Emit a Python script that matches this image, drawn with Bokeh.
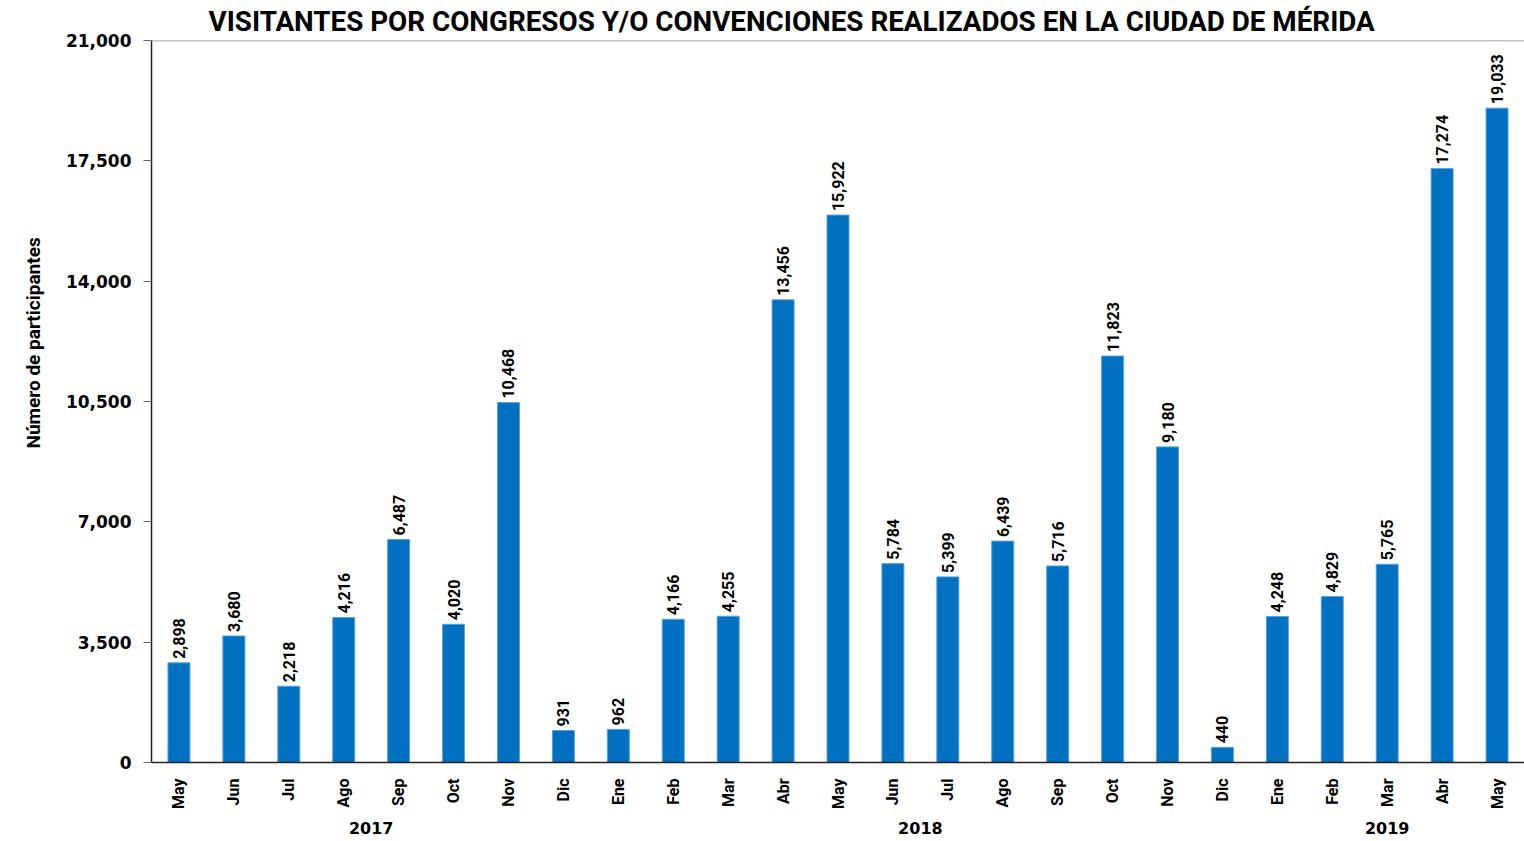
import math
from bokeh.plotting import figure
from bokeh.models import (ColumnDataSource, FactorRange, Range1d, FixedTicker,
                          NumeralTickFormatter, Span, Title)
from bokeh.core.properties import value
from bokeh.embed import file_html
from bokeh.resources import INLINE

years = ["2017"] * 8 + ["2018"] * 12 + ["2019"] * 5
months = ["May", "Jun", "Jul", "Ago", "Sep", "Oct", "Nov", "Dic",
          "Ene", "Feb", "Mar", "Abr", "May", "Jun", "Jul", "Ago", "Sep", "Oct", "Nov", "Dic",
          "Ene", "Feb", "Mar", "Abr", "May"]
visitantes = [2898, 3680, 2218, 4216, 6487, 4020, 10468, 931,
              962, 4166, 4255, 13456, 15922, 5784, 5399, 6439, 5716, 11823, 9180, 440,
              4248, 4829, 5765, 17274, 19033]
y_ticks = [0, 3500, 7000, 10500, 14000, 17500, 21000]

title_text = "VISITANTES POR CONGRESOS Y/O CONVENCIONES REALIZADOS EN LA CIUDAD DE MÉRIDA"
y_label = "Número de participantes"

factors = list(zip(years, months))
src = ColumnDataSource(dict(x=factors, y=visitantes,
                            lbl=["{:,}".format(v) for v in visitantes]))

p = figure(width=1524, height=841, output_backend="svg", toolbar_location=None,
           x_range=FactorRange(*factors, factor_padding=0, group_padding=0, range_padding=0),
           y_range=Range1d(0, 21000), title=title_text,
           min_border_left=151, min_border_right=0, min_border_top=40, min_border_bottom=79)

p.title.text_font = "Roboto"
p.title.text_font_style = "bold"
p.title.text_font_size = "27.8px"
p.title.align = "left"
p.title.offset = 57
p.title.standoff = 5
p.title.text_color = "#000000"

p.add_layout(Title(text=y_label, align="left", offset=314, standoff=36,
                   text_font="Roboto", text_font_style="bold", text_font_size="19px",
                   text_color="#000000"), "left")

p.vbar(x="x", top="y", width=0.4, source=src, fill_color="#0070C0",
       line_color="#5a9fd8", line_width=1)

p.text(x="x", y="y", text="lbl", source=src, angle=math.pi / 2,
       text_align="left", text_baseline="middle", y_offset=-4,
       text_font=value("Roboto"), text_font_style="bold", text_font_size="16px",
       text_color="#000000")

p.add_layout(Span(location=21000, dimension="width", line_color="#888888", line_width=1.5))

p.xgrid.visible = False
p.ygrid.visible = False
p.outline_line_color = None

ya = p.yaxis[0]
ya.ticker = FixedTicker(ticks=y_ticks)
ya.formatter = NumeralTickFormatter(format="0,0")
ya.major_label_text_font = "DejaVu Sans"
ya.major_label_text_font_style = "bold"
ya.major_label_text_font_size = "17px"
ya.major_label_text_color = "#000000"
ya.major_tick_out = 8
ya.major_tick_in = 0
ya.major_tick_line_color = "#666666"
ya.minor_tick_line_color = None
ya.axis_line_color = "#222222"
ya.axis_line_width = 1.5
ya.major_label_standoff = 12

xa = p.xaxis[0]
xa.major_label_orientation = math.pi / 2
xa.major_label_standoff = 10
xa.major_label_text_font = "Roboto"
xa.major_label_text_font_style = "bold"
xa.major_label_text_font_size = "16px"
xa.major_label_text_color = "#000000"
xa.group_text_font = "DejaVu Sans"
xa.group_text_font_style = "bold"
xa.group_text_font_size = "16px"
xa.group_text_color = "#000000"
xa.separator_line_color = None
xa.major_tick_line_color = None
xa.minor_tick_line_color = None
xa.axis_line_color = "#222222"
xa.axis_line_width = 1.5

open("out.html", "w").write(file_html(p, INLINE))
